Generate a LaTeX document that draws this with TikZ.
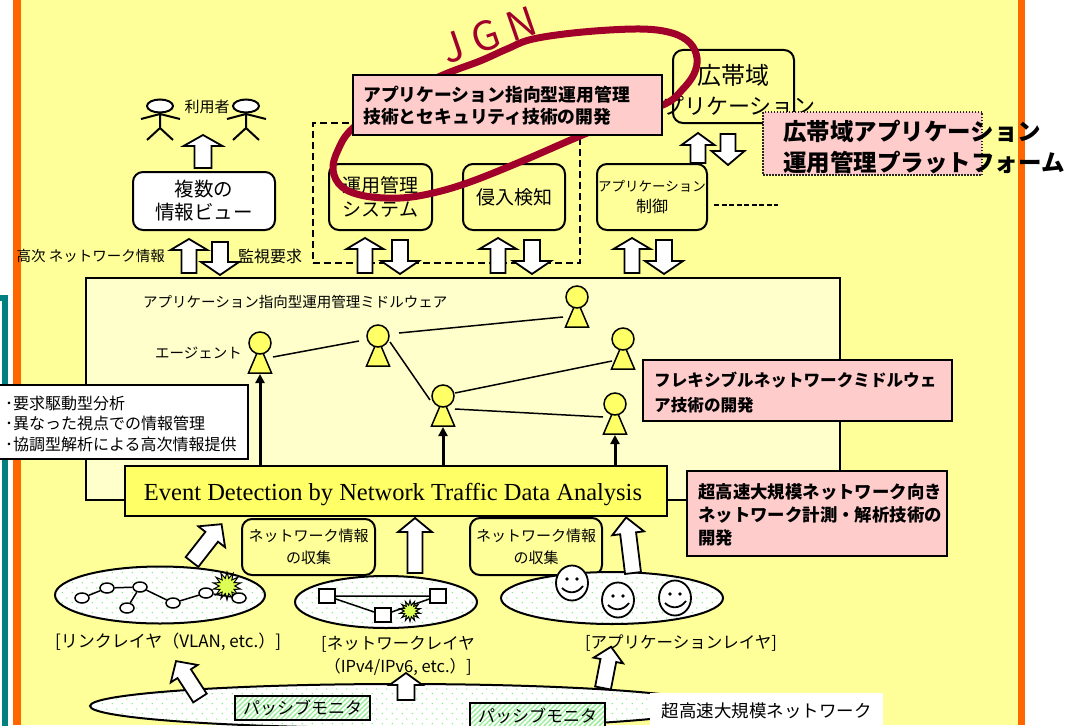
\documentclass[tikz,border=0pt]{standalone}
\usepackage{fontspec}
\setmainfont{Noto Sans CJK JP}
\newfontfamily\serifface{Liberation Serif}
\usetikzlibrary{calc,shapes.geometric,patterns,arrows.meta}

\definecolor{bgyellow}{HTML}{FFFF99}
\definecolor{barorange}{HTML}{FF6600}
\definecolor{barteal}{HTML}{008080}
\definecolor{mwfill}{HTML}{FFFFCC}
\definecolor{evfill}{HTML}{FFFF66}
\definecolor{pinkfill}{HTML}{FFCCCC}
\definecolor{jgnred}{HTML}{A0002A}
\definecolor{dotgreen}{HTML}{77EE77}
\definecolor{hatchgreen}{HTML}{99EE99}
\definecolor{burstfill}{HTML}{DDFF55}

% sparse staggered dots for the network layers
\pgfdeclarepatternformonly{sparsedots}{\pgfqpoint{0pt}{0pt}}{\pgfqpoint{10pt}{10pt}}{\pgfqpoint{10pt}{10pt}}{%
  \pgfpathcircle{\pgfqpoint{2.5pt}{2.5pt}}{0.8pt}%
  \pgfpathcircle{\pgfqpoint{7.5pt}{7.5pt}}{0.8pt}%
  \pgfusepath{fill}}
% wide diagonal hatch for the passive monitors
\pgfdeclarepatternformonly{widehatch}{\pgfqpoint{-1pt}{-1pt}}{\pgfqpoint{6pt}{6pt}}{\pgfqpoint{5pt}{5pt}}{%
  \pgfsetlinewidth{1.4pt}%
  \pgfpathmoveto{\pgfqpoint{-1pt}{-1pt}}\pgfpathlineto{\pgfqpoint{6pt}{6pt}}%
  \pgfusepath{stroke}}

\newcommand\pxfont[2]{\fontsize{#1pt}{#2pt}\selectfont}

% hollow block arrow: tail x, tail y, direction, length, shaft half width, head half width, head length
\newcommand{\blockarrow}[7]{%
  \begin{scope}[shift={(#1,#2)},rotate=#3]
    \filldraw[barrowstyle] (0,-#5) -- ({#4-#7},-#5) -- ({#4-#7},-#6) -- (#4,0)
      -- ({#4-#7},#6) -- ({#4-#7},#5) -- (0,#5) -- cycle;
  \end{scope}}

\tikzset{
  txt/.style={inner sep=0pt, align=center},
  rbox/.style={draw, line width=2pt, rounded corners=10pt, inner sep=0pt, align=center},
  pinkbox/.style={draw, line width=2pt, fill=pinkfill, inner sep=0pt},
  barrowstyle/.style={draw, line width=1.8pt, fill=white, line join=miter},
  agentbody/.style={draw, line width=1.5pt, fill=evfill, line join=miter},
  agenthead/.style={circle, draw, line width=1.5pt, fill=evfill, minimum size=22pt, inner sep=0pt},
  agentlink/.style={line width=1.5pt},
  feed/.style={line width=3pt, -{Triangle[length=9pt,width=9pt]}},
  layer/.style={ellipse, draw, line width=2pt, inner sep=0pt, preaction={fill=white}, pattern=sparsedots, pattern color=dotgreen},
  monitor/.style={draw, line width=1.5pt, inner sep=0pt, preaction={fill=white}, pattern=widehatch, pattern color=hatchgreen},
  lnode/.style={ellipse, draw, line width=1.5pt, fill=white, minimum width=14pt, minimum height=10pt, inner sep=0pt},
  snode/.style={rectangle, draw, line width=1.5pt, fill=white, minimum width=16pt, minimum height=14pt, inner sep=0pt},
  burst/.style={star, star points=14, star point ratio=1.8, draw, line width=1pt, fill=burstfill, inner sep=0pt},
  face/.style={ellipse, draw, line width=1.8pt, fill=white, minimum width=32pt, minimum height=35pt, inner sep=0pt},
  stick/.style={line width=2pt},
  pics/agent/.style={code={
    \draw[agentbody] (-11.5,30) -- (11.5,30) -- (0,3) -- cycle;
    \node[agenthead] (-head) at (0,0) {};
  }},
  pics/user/.style={code={
    \node[ellipse, draw, line width=2pt, fill=white, minimum width=26pt, minimum height=13pt, inner sep=0pt] (-head) at (0,0) {};
    \draw[stick] (0,6.5) -- (0,22) (-19,13) -- (0,8) -- (20,13) (-13,34) -- (0,22) -- (13,34);
  }},
  pics/smiley/.style={code={
    \node[face] (-face) at (0,0) {};
    \fill (-5,-4) circle (1.8pt) (5,-4) circle (1.8pt);
    \draw[line width=1.8pt] (-10,5) .. controls (-4,11) and (5,11) .. (11,3);
  }},
}

\begin{document}
\begin{tikzpicture}[x=1pt,y=-1pt]
\useasboundingbox (0,0) rectangle (1083,725);

% ---------- frame ----------
\fill[white] (0,0) rectangle (1083,725);
\fill[bgyellow] (21,0) rectangle (1018,725);
\fill[barorange] (13,0) rectangle (21,725);
\fill[barorange] (1018,0) rectangle (1025,725);
\draw[barteal, line width=6pt] (-6,298) -- (5,298) -- (5,732);

% ---------- middleware panel ----------
\node[draw, line width=1.5pt, fill=mwfill, minimum width=754pt, minimum height=222pt, inner sep=0pt] (mw) at (463,389) {};
\node[txt, anchor=west, font=\pxfont{14.5}{14.5}] (mwtitle) at (143,302) {アプリケーション指向型運用管理ミドルウェア};
\node[txt, anchor=east, font=\pxfont{14.5}{14.5}] (agentlbl) at (242,353) {エージェント};

\pic (a1) at (260,343) {agent};
\pic (a2) at (378,336) {agent};
\pic (a3) at (577,297) {agent};
\pic (a4) at (443,396) {agent};
\pic (a5) at (623,339) {agent};
\pic (a6) at (615,404) {agent};

\draw[agentlink] ($(a1-head)+(13,14)$) -- ($(a2-head)+(-19,5)$);
\draw[agentlink] ($(a2-head)+(21,-3)$) -- ($(a3-head)+(-14,20)$);
\draw[agentlink] ($(a2-head)+(12,6)$) -- ($(a4-head)+(-13,4)$);
\draw[agentlink] ($(a4-head)+(12,-3)$) -- ($(a5-head)+(-11,22)$);
\draw[agentlink] ($(a4-head)+(12,13)$) -- ($(a6-head)+(-12,13)$);

% ---------- users and views ----------
\pic (u1) at (160,106) {user};
\pic (u2) at (246,106) {user};
\node[txt, font=\pxfont{15}{15}] (userlbl) at (207,107) {利用者};
\node[rbox, fill=white, minimum width=142pt, minimum height=58pt, font=\pxfont{19.5}{23}] (views) at (204,201) {複数の\\情報ビュー};
\node[txt, anchor=east, font=\pxfont{14.5}{14.5}] (hiinfo) at (165,256) {高次 ネットワーク情報};
\node[txt, anchor=west, font=\pxfont{16}{16}] (monreq) at (238,256) {監視要求};

% ---------- management systems ----------
\node[draw, line width=2.5pt, dash pattern=on 7pt off 4pt, minimum width=267pt, minimum height=140pt, inner sep=0pt] (secgroup) at (446.5,193) {};
\node[rbox, minimum width=103pt, minimum height=66pt, font=\pxfont{19}{24}] (ops) at (380.5,197) {運用管理\\システム};
\node[rbox, minimum width=102pt, minimum height=66pt, font=\pxfont{19}{24}] (ids) at (514,197) {侵入検知};
\node[rbox, minimum width=110pt, minimum height=66pt, font=\pxfont{16}{21}] (appctl) at (652,197) {{\pxfont{13.5}{21}アプリケーション}\\制御};
\node[rbox, minimum width=121pt, minimum height=73pt] (wideapp) at (733.5,86.5) {};
\node[txt, font=\pxfont{24}{24}] (widet1) at (733,75) {広帯域};
\node[txt, font=\pxfont{22}{22}] (widet2) at (728,106) {アプリケーション};
\draw[line width=2pt, dash pattern=on 5pt off 2.5pt] ($(appctl.east)+(6,8)$) -- ++(64,0);

\blockarrow{203}{168}{90}{33}{8.5}{19.5}{11}
\blockarrow{189}{273}{90}{34}{7.5}{18.5}{11}
\blockarrow{220}{242}{-90}{33}{8}{19}{13}
\blockarrow{365}{273}{90}{35}{7.5}{18.5}{11}
\blockarrow{400}{240}{-90}{34}{8}{19}{13}
\blockarrow{498}{273}{90}{35}{7.5}{18.5}{11}
\blockarrow{532}{240}{-90}{34}{8}{19}{13}
\blockarrow{632}{273}{90}{35}{7.5}{18.5}{11}
\blockarrow{664}{240}{-90}{34}{8}{19}{13}
\blockarrow{698}{163}{90}{30}{7.5}{16.5}{12}
\blockarrow{728}{134}{-90}{31}{7.5}{16.5}{14}

% ---------- JGN ring (hand-drawn loop) ----------
\draw[jgnred, line width=7pt] plot[smooth cycle, tension=0.6] coordinates {
  (443,75) (480,61) (507,49) (533,39) (583,32) (640,29) (672,33) (690,43)
  (697,58) (694,74) (682,90) (665,104) (620,120) (580,136) (520,162)
  (470,182) (433,193) (400,198) (365,196) (342,187) (333,170) (338,150)
  (353,128) (395,98)};
\node[txt, text=jgnred, rotate=19, font=\pxfont{40}{40}] (jgn) at (489,35) {J\hspace{10pt}G\hspace{10pt}N};

% ---------- research topics ----------
\node[pinkbox, minimum width=309pt, minimum height=60pt] (p1) at (507.5,105) {};
\node[txt, anchor=west, align=left, font=\bfseries\pxfont{17.8}{22}] (p1t) at (363,106) {アプリケーション指向型運用管理\\技術とセキュリティ技術の開発};
\node[draw=black!85, line width=1.5pt, dash pattern=on 1.5pt off 1.5pt, fill=pinkfill, minimum width=219pt, minimum height=63pt, inner sep=0pt] (p2) at (872.5,143.5) {};
\node[txt, anchor=west, align=left, font=\bfseries\pxfont{23.5}{31}] (p2t) at (783,147.5) {広帯域アプリケーション\\運用管理プラットフォーム};
\node[pinkbox, minimum width=309pt, minimum height=61pt] (p3) at (797.5,390.5) {};
\node[txt, anchor=west, align=left, font=\bfseries\pxfont{16.6}{25}] (p3t) at (654,392.5) {フレキシブルネットワークミドルウェ\\ア技術の開発};
\node[pinkbox, minimum width=260pt, minimum height=85pt] (p4) at (817,513.5) {};
\node[txt, anchor=west, align=left, font=\bfseries\pxfont{17.4}{23}] (p4t) at (698,515) {超高速大規模ネットワーク向き\\ネットワーク計測・解析技術の\\開発};

% ---------- analysis features ----------
\node[draw, line width=1.5pt, fill=white, minimum width=254pt, minimum height=74pt, inner sep=0pt] (notes) at (121,422) {};
\node[txt, anchor=west, align=left, font=\pxfont{16}{20.5}] (notest) at (5,423.5) {･要求駆動型分析\\･異なった視点での情報管理\\･協調型解析による高次情報提供};

% ---------- event detection ----------
\node[draw, line width=2pt, fill=evfill, minimum width=542pt, minimum height=50pt, inner sep=0pt] (ev) at (396,491) {};
\node[inner sep=0pt, anchor=base, font=\serifface\pxfont{24.5}{24.5}] (evt) at (393,500) {Event Detection by Network Traffic Data Analysis};
\draw[feed] (ev.north -| a1-head) -- ($(a1-head)+(0,31)$);
\draw[feed] (ev.north -| a4-head) -- ($(a4-head)+(0,31)$);
\draw[feed] (ev.north -| a6-head) -- ($(a6-head)+(0,31)$);

\node[rbox, minimum width=133pt, minimum height=56pt, font=\pxfont{15}{22}] (col1) at (308.5,547) {ネットワーク情報\\の収集};
\node[rbox, minimum width=132pt, minimum height=57pt, font=\pxfont{15}{22}] (col2) at (536,546.5) {ネットワーク情報\\の収集};

% ---------- link layer ----------
\node[layer, minimum width=210pt, minimum height=57pt] (linkL) at (160,595) {};
\node[burst, minimum size=28pt] (bang1) at (227,586) {};
\node[lnode] (n1) at (82,598) {};
\node[lnode] (n2) at (107,588) {};
\node[lnode] (n3) at (140,587) {};
\node[lnode] (n4) at (127,608) {};
\node[lnode] (n5) at (173,603) {};
\node[lnode] (n6) at (206,593) {};
\node[lnode] (n7) at (239,598) {};
\draw[line width=1.5pt] (n1) -- (n2) (n2) -- (n3) (n3) -- (n4) (n3) -- (n5) (n5) -- (n6) (n6) -- (n7);
\node[txt, font=\pxfont{17}{17}] (linklbl) at (168,642) {[リンクレイヤ（VLAN, etc.）]};

% ---------- network layer ----------
\node[layer, minimum width=182pt, minimum height=52pt] (netL) at (386,602) {};
\node[snode] (s1) at (327,596) {};
\node[snode] (s2) at (383,615) {};
\node[snode] (s3) at (438,596) {};
\draw[line width=1.5pt] (s1) -- (s3) (s1) -- (s2) (s2) -- (s3);
\node[burst, minimum size=21pt] (bang2) at (410,611) {};
\node[txt, font=\pxfont{16.5}{23}] (netlbl) at (398,655.5) {[ネットワークレイヤ\\（IPv4/IPv6, etc.）]};

% ---------- application layer ----------
\node[layer, minimum width=222pt, minimum height=52pt] (appL) at (612,598) {};
\pic (f1) at (572,583) {smiley};
\pic (f2) at (618,600) {smiley};
\pic (f3) at (675,598) {smiley};
\node[txt, font=\pxfont{16.5}{16.5}] (applbl) at (681,643) {[アプリケーションレイヤ]};

% ---------- backbone with passive monitors ----------
\node[layer, minimum width=620pt, minimum height=44pt] (core) at (400,706) {};
\node[monitor, minimum width=135pt, minimum height=24pt, font=\pxfont{17}{17}] (mon1) at (302.5,708) {パッシブモニタ};
\node[monitor, minimum width=135pt, minimum height=26pt, font=\pxfont{17}{17}] (mon2) at (537.5,716) {パッシブモニタ};
\node[fill=white, minimum width=233pt, minimum height=35pt, inner sep=0pt, font=\pxfont{17.5}{17.5}] (corelbl) at (766.5,710.5) {超高速大規模ネットワーク};

% ---------- data flow arrows ----------
\blockarrow{192}{562}{52}{48}{8}{17}{16}
\blockarrow{415}{573}{90}{55}{7.5}{17}{14}
\blockarrow{633}{573}{97}{56}{8}{16}{16}
\blockarrow{200}{698}{123}{44}{8}{16}{15}
\blockarrow{406}{700}{90}{27}{8.5}{16.5}{12}
\blockarrow{603}{688}{79}{42}{8}{15}{14}

\end{tikzpicture}
\end{document}
